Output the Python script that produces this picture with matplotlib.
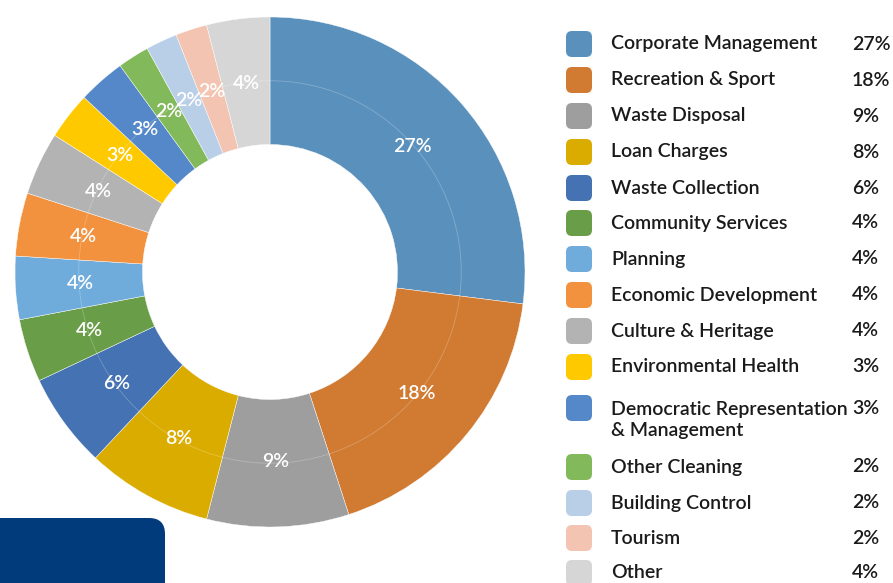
import matplotlib
matplotlib.use('Agg')
import matplotlib.pyplot as plt
from matplotlib.patches import FancyBboxPatch, Circle

plt.rcParams['font.family'] = ['Lato', 'DejaVu Sans']

categories = ['Corporate Management', 'Recreation & Sport', 'Waste Disposal',
              'Loan Charges', 'Waste Collection', 'Community Services',
              'Planning', 'Economic Development', 'Culture & Heritage',
              'Environmental Health', 'Democratic Representation\n& Management',
              'Other Cleaning', 'Building Control', 'Tourism', 'Other']
shares = [27, 18, 9, 8, 6, 4, 4, 4, 4, 3, 3, 2, 2, 2, 4]
colors = ['#5A90BC', '#D07A32', '#9E9E9E', '#DAAC00', '#4472B2', '#6A9D48',
          '#6FACDC', '#F2923E', '#B3B3B3', '#FFC900', '#5588C8', '#82B95A',
          '#B9CFE8', '#F4C4B2', '#D6D6D6']
# legend row centres (px from top)
row_y = [44, 80, 116, 152, 188, 223, 259, 295, 331, 367, 408, 467, 503, 538, 573]

W, H = 893, 583
fig = plt.figure(figsize=(W / 100, H / 100), dpi=100)

# overlay axes in pixel coordinates for legend and decoration
bg = fig.add_axes([0, 0, 1, 1])
bg.set_xlim(0, W)
bg.set_ylim(H, 0)
bg.axis('off')

bg.add_patch(FancyBboxPatch((-30, 518), 195, 120,
                            boxstyle='round,pad=0,rounding_size=16',
                            fc='#013B7B', ec='none'))

# donut
cx, cy, R = 270, 272, 255
ax = fig.add_axes([(cx - R) / W, 1 - (cy + R) / H, 2 * R / W, 2 * R / H])
wedges, _, autotexts = ax.pie(
    shares, colors=colors, startangle=90, counterclock=False,
    radius=1, wedgeprops=dict(width=0.5, edgecolor='white', linewidth=0.3),
    autopct=lambda p: f'{p:.0f}%', pctdistance=0.745)
for t in autotexts:
    t.set_color('white')
    t.set_fontsize(14)
    t.set_fontweight('semibold')
ax.add_patch(Circle((0, 0), 0.75, fill=False, ec='white', lw=0.6, alpha=0.25))
ax.set_xlim(-1, 1)
ax.set_ylim(-1, 1)
ax.set_aspect('equal')
ax.axis('off')

# legend
for cat, val, col, y in zip(categories, shares, colors, row_y):
    bg.add_patch(FancyBboxPatch((566, y - 13), 26, 26,
                                boxstyle='round,pad=0,rounding_size=6',
                                fc=col, ec='none', zorder=3))
    ty = y + 12 if '\n' in cat else y
    bg.text(611, ty, cat, fontsize=14, fontweight='semibold', color='#1A1A1A',
            va='center', linespacing=1.25)
    bg.text(852, y, f'{val}%', fontsize=14, fontweight='semibold',
            color='#1A1A1A', va='center')

fig.savefig('out.png', dpi=100)
